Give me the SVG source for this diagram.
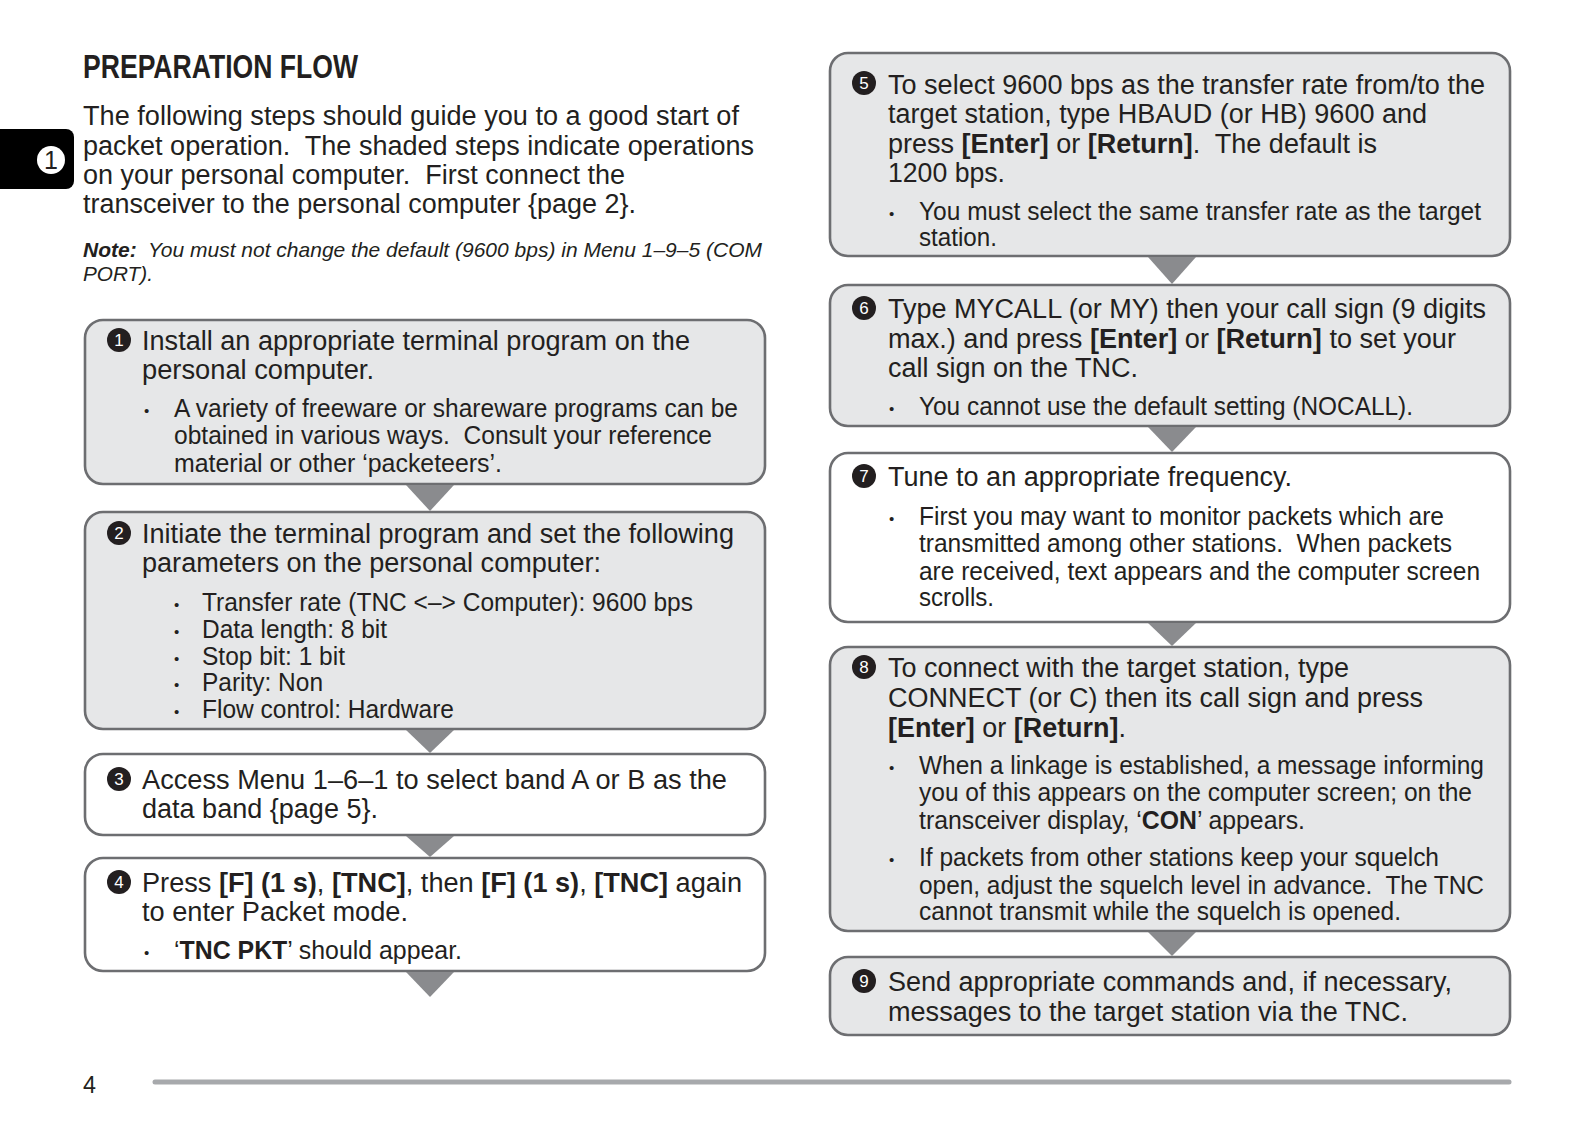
<svg xmlns="http://www.w3.org/2000/svg" width="1594" height="1122" viewBox="0 0 1594 1122">
<style>
text { font-family: "Liberation Sans", Arial, sans-serif; fill: #231f20; }
.m { font-size: 27px; }
.s { font-size: 25px; }
.d { font-size: 15px; }
.bd { font-weight: bold; }
.g { fill: #e6e7e8; stroke: #6d6e71; stroke-width: 2.6; }
.w { fill: #ffffff; stroke: #6d6e71; stroke-width: 2.6; }
.arr { fill: #8a8b8e; }
.nc { fill: #231f20; }
.nt { font-size: 17px; fill: #ffffff; text-anchor: middle; }
</style>
<rect width="1594" height="1122" fill="#ffffff"/>

<g id="header">
  <path d="M0,129 H66 A8,8 0 0 1 74,137 V181 A8,8 0 0 1 66,189 H0 Z" fill="#000000"/>
  <circle cx="51" cy="160" r="14" fill="#ffffff"/>
  <text x="51" y="169" font-size="25" text-anchor="middle" fill="#000000">1</text>
  <text x="83" y="78" font-size="34" class="bd" textLength="275" lengthAdjust="spacingAndGlyphs">PREPARATION FLOW</text>
  <text class="m" x="83" y="125" textLength="656" lengthAdjust="spacingAndGlyphs">The following steps should guide you to a good start of</text>
  <text class="m" x="83" y="155" textLength="671" lengthAdjust="spacingAndGlyphs">packet operation.&#160; The shaded steps indicate operations</text>
  <text class="m" x="83" y="184" textLength="542" lengthAdjust="spacingAndGlyphs">on your personal computer.&#160; First connect the</text>
  <text class="m" x="83" y="213" textLength="553" lengthAdjust="spacingAndGlyphs">transceiver to the personal computer {page 2}.</text>
  <text x="83" y="257" font-size="21" font-style="italic" textLength="679" lengthAdjust="spacingAndGlyphs"><tspan font-weight="bold">Note:</tspan>&#160; You must not change the default (9600 bps) in Menu 1–9–5 (COM</text>
  <text x="83" y="281" font-size="21" font-style="italic" textLength="70" lengthAdjust="spacingAndGlyphs">PORT).</text>
</g>

<g id="step1">
  <rect class="g" x="85" y="320" width="680" height="164" rx="18"/>
  <circle class="nc" cx="119" cy="340" r="12"/>
  <text class="nt" x="119" y="346">1</text>
  <text class="m" x="142" y="350" textLength="548" lengthAdjust="spacingAndGlyphs">Install an appropriate terminal program on the</text>
  <text class="m" x="142" y="379" textLength="232" lengthAdjust="spacingAndGlyphs">personal computer.</text>
  <text class="d" x="144" y="416">•</text>
  <text class="s" x="174" y="417" textLength="564" lengthAdjust="spacingAndGlyphs">A variety of freeware or shareware programs can be</text>
  <text class="s" x="174" y="444" textLength="538" lengthAdjust="spacingAndGlyphs">obtained in various ways.&#160; Consult your reference</text>
  <text class="s" x="174" y="472" textLength="328" lengthAdjust="spacingAndGlyphs">material or other ‘packeteers’.</text>
</g>

<g id="step2">
  <rect class="g" x="85" y="512" width="680" height="217" rx="18"/>
  <circle class="nc" cx="119" cy="533" r="12"/>
  <text class="nt" x="119" y="539">2</text>
  <text class="m" x="142" y="543" textLength="592" lengthAdjust="spacingAndGlyphs">Initiate the terminal program and set the following</text>
  <text class="m" x="142" y="572" textLength="459" lengthAdjust="spacingAndGlyphs">parameters on the personal computer:</text>
  <text class="d" x="174" y="610">•</text>
  <text class="s" x="202" y="611" textLength="491" lengthAdjust="spacingAndGlyphs">Transfer rate (TNC &lt;–&gt; Computer): 9600 bps</text>
  <text class="d" x="174" y="637">•</text>
  <text class="s" x="202" y="638" textLength="185" lengthAdjust="spacingAndGlyphs">Data length: 8 bit</text>
  <text class="d" x="174" y="664">•</text>
  <text class="s" x="202" y="665" textLength="143" lengthAdjust="spacingAndGlyphs">Stop bit: 1 bit</text>
  <text class="d" x="174" y="690">•</text>
  <text class="s" x="202" y="691" textLength="121" lengthAdjust="spacingAndGlyphs">Parity: Non</text>
  <text class="d" x="174" y="717">•</text>
  <text class="s" x="202" y="718" textLength="252" lengthAdjust="spacingAndGlyphs">Flow control: Hardware</text>
</g>

<g id="step3">
  <rect class="w" x="85" y="754" width="680" height="81" rx="18"/>
  <circle class="nc" cx="119" cy="779" r="12"/>
  <text class="nt" x="119" y="785">3</text>
  <text class="m" x="142" y="789" textLength="585" lengthAdjust="spacingAndGlyphs">Access Menu 1–6–1 to select band A or B as the</text>
  <text class="m" x="142" y="818" textLength="236" lengthAdjust="spacingAndGlyphs">data band {page 5}.</text>
</g>

<g id="step4">
  <rect class="w" x="85" y="858" width="680" height="113" rx="18"/>
  <circle class="nc" cx="119" cy="882" r="12"/>
  <text class="nt" x="119" y="888">4</text>
  <text class="m" x="142" y="892" textLength="600" lengthAdjust="spacingAndGlyphs">Press <tspan class="bd">[F] (1 s)</tspan>, <tspan class="bd">[TNC]</tspan>, then <tspan class="bd">[F] (1 s)</tspan>, <tspan class="bd">[TNC]</tspan> again</text>
  <text class="m" x="142" y="921" textLength="266" lengthAdjust="spacingAndGlyphs">to enter Packet mode.</text>
  <text class="d" x="144" y="958">•</text>
  <text class="s" x="174" y="959" textLength="288" lengthAdjust="spacingAndGlyphs">‘<tspan class="bd">TNC PKT</tspan>’ should appear.</text>
</g>

<g id="step5">
  <rect class="g" x="830" y="53" width="680" height="203" rx="18"/>
  <circle class="nc" cx="864" cy="83" r="12"/>
  <text class="nt" x="864" y="89">5</text>
  <text class="m" x="888" y="93.5" textLength="597" lengthAdjust="spacingAndGlyphs">To select 9600 bps as the transfer rate from/to the</text>
  <text class="m" x="888" y="123" textLength="539" lengthAdjust="spacingAndGlyphs">target station, type HBAUD (or HB) 9600 and</text>
  <text class="m" x="888" y="152.5" textLength="489" lengthAdjust="spacingAndGlyphs">press <tspan class="bd">[Enter]</tspan> or <tspan class="bd">[Return]</tspan>.&#160; The default is</text>
  <text class="m" x="888" y="182" textLength="117" lengthAdjust="spacingAndGlyphs">1200 bps.</text>
  <text class="d" x="889" y="219">•</text>
  <text class="s" x="919" y="220" textLength="562" lengthAdjust="spacingAndGlyphs">You must select the same transfer rate as the target</text>
  <text class="s" x="919" y="246" textLength="78" lengthAdjust="spacingAndGlyphs">station.</text>
</g>

<g id="step6">
  <rect class="g" x="830" y="285" width="680" height="141" rx="18"/>
  <circle class="nc" cx="864" cy="308" r="12"/>
  <text class="nt" x="864" y="314">6</text>
  <text class="m" x="888" y="318" textLength="598" lengthAdjust="spacingAndGlyphs">Type MYCALL (or MY) then your call sign (9 digits</text>
  <text class="m" x="888" y="348" textLength="568" lengthAdjust="spacingAndGlyphs">max.) and press <tspan class="bd">[Enter]</tspan> or <tspan class="bd">[Return]</tspan> to set your</text>
  <text class="m" x="888" y="377" textLength="250" lengthAdjust="spacingAndGlyphs">call sign on the TNC.</text>
  <text class="d" x="889" y="414">•</text>
  <text class="s" x="919" y="415" textLength="494" lengthAdjust="spacingAndGlyphs">You cannot use the default setting (NOCALL).</text>
</g>

<g id="step7">
  <rect class="w" x="830" y="453" width="680" height="169" rx="18"/>
  <circle class="nc" cx="864" cy="476" r="12"/>
  <text class="nt" x="864" y="482">7</text>
  <text class="m" x="888" y="486" textLength="404" lengthAdjust="spacingAndGlyphs">Tune to an appropriate frequency.</text>
  <text class="d" x="889" y="524">•</text>
  <text class="s" x="919" y="525" textLength="525" lengthAdjust="spacingAndGlyphs">First you may want to monitor packets which are</text>
  <text class="s" x="919" y="552" textLength="533" lengthAdjust="spacingAndGlyphs">transmitted among other stations.&#160; When packets</text>
  <text class="s" x="919" y="579.5" textLength="561" lengthAdjust="spacingAndGlyphs">are received, text appears and the computer screen</text>
  <text class="s" x="919" y="606" textLength="75" lengthAdjust="spacingAndGlyphs">scrolls.</text>
</g>

<g id="step8">
  <rect class="g" x="830" y="647" width="680" height="284" rx="18"/>
  <circle class="nc" cx="864" cy="667" r="12"/>
  <text class="nt" x="864" y="673">8</text>
  <text class="m" x="888" y="677" textLength="461" lengthAdjust="spacingAndGlyphs">To connect with the target station, type</text>
  <text class="m" x="888" y="706.5" textLength="535" lengthAdjust="spacingAndGlyphs">CONNECT (or C) then its call sign and press</text>
  <text class="m" x="888" y="736.5" textLength="238" lengthAdjust="spacingAndGlyphs"><tspan class="bd">[Enter]</tspan> or <tspan class="bd">[Return]</tspan>.</text>
  <text class="d" x="889" y="773">•</text>
  <text class="s" x="919" y="774" textLength="565" lengthAdjust="spacingAndGlyphs">When a linkage is established, a message informing</text>
  <text class="s" x="919" y="801" textLength="553" lengthAdjust="spacingAndGlyphs">you of this appears on the computer screen; on the</text>
  <text class="s" x="919" y="828.5" textLength="386" lengthAdjust="spacingAndGlyphs">transceiver display, ‘<tspan class="bd">CON</tspan>’ appears.</text>
  <text class="d" x="889" y="865">•</text>
  <text class="s" x="919" y="866" textLength="520" lengthAdjust="spacingAndGlyphs">If packets from other stations keep your squelch</text>
  <text class="s" x="919" y="893.5" textLength="565" lengthAdjust="spacingAndGlyphs">open, adjust the squelch level in advance.&#160; The TNC</text>
  <text class="s" x="919" y="920" textLength="482" lengthAdjust="spacingAndGlyphs">cannot transmit while the squelch is opened.</text>
</g>

<g id="step9">
  <rect class="g" x="830" y="957" width="680" height="78" rx="18"/>
  <circle class="nc" cx="864" cy="981" r="12"/>
  <text class="nt" x="864" y="987">9</text>
  <text class="m" x="888" y="991" textLength="564" lengthAdjust="spacingAndGlyphs">Send appropriate commands and, if necessary,</text>
  <text class="m" x="888" y="1021" textLength="520" lengthAdjust="spacingAndGlyphs">messages to the target station via the TNC.</text>
</g>

<g id="connectors">
  <polygon class="arr" points="406,485 454,485 430,511"/>
  <polygon class="arr" points="406,730 454,730 430,753"/>
  <polygon class="arr" points="406,836 454,836 430,857"/>
  <polygon class="arr" points="406,972 454,972 430,997"/>
  <polygon class="arr" points="1148,257 1196,257 1172,284"/>
  <polygon class="arr" points="1148,427 1196,427 1172,452"/>
  <polygon class="arr" points="1148,623 1196,623 1172,646"/>
  <polygon class="arr" points="1148,932 1196,932 1172,956"/>
</g>

<g id="footer">
  <text x="83" y="1093" font-size="24" textLength="13" lengthAdjust="spacingAndGlyphs">4</text>
  <line x1="155" y1="1082" x2="1509" y2="1082" stroke="#a7a9ac" stroke-width="5" stroke-linecap="round"/>
</g>
</svg>
